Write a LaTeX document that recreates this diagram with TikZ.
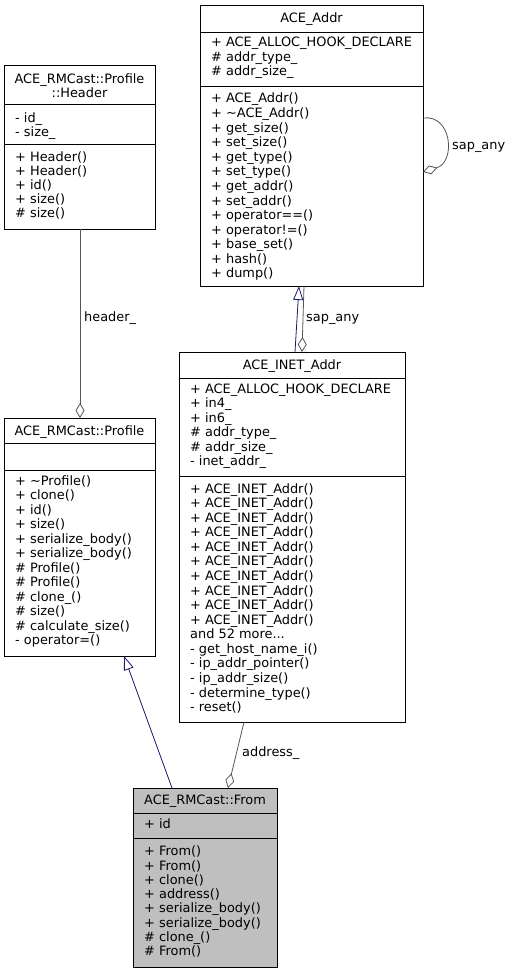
\documentclass[tikz,border=0pt]{standalone}
\usepackage{fontspec}
\setmainfont{DejaVu Sans}
\usetikzlibrary{arrows.meta,calc}
\definecolor{inh}{HTML}{191970}
\definecolor{usecol}{HTML}{555555}
\definecolor{fromfill}{HTML}{BFBFBF}
% prefix, x, first baseline, step, list
\newcommand\umlLines[5]{%
  \foreach \t [count=\i from 0] in {#5}{%
    \node[linetxt] (#1\i) at (#2, #3+#4*\i) {\t};
  }}
\begin{document}
\begin{tikzpicture}[x=1pt,y=-1pt,
  font=\fontsize{12.9}{14.5}\selectfont,
  comp/.style={draw=black, line width=0.8pt, fill=white, inner sep=0pt, outer sep=0pt, anchor=north west},
  linetxt/.style={anchor=base west, inner sep=0pt},
  titletxt/.style={anchor=base, inner sep=0pt},
  lbl/.style={anchor=west, inner sep=0pt},
  inherit/.style={draw=inh, line width=0.8pt, -{Triangle[length=14pt,width=10pt,fill=white]}},
  usage/.style={draw=usecol, line width=0.8pt, -{Diamond[length=15pt,width=9pt,fill=white]}}]
\useasboundingbox (0,0) rectangle (509,973);

% ---------- ACE_RMCast::Profile::Header ----------
\node[comp, minimum width=151pt, minimum height=39pt] (hdrT) at (4,65) {};
\node[comp, minimum width=151pt, minimum height=40pt] (hdrA) at (4,104) {};
\node[comp, minimum width=151pt, minimum height=85pt] (hdrM) at (4,144) {};
\node[titletxt] (hdrN1) at (79.5,84) {ACE\_RMCast::Profile};
\node[titletxt] (hdrN2) at (79.5,98) {::Header};
\umlLines{hdra}{15}{123}{14}{- id\_, - size\_}
\umlLines{hdrm}{15}{162}{13.9}{+ Header(), + Header(), + id(), + size(), \# size()}

% ---------- ACE_Addr ----------
\node[comp, minimum width=223pt, minimum height=27pt] (addrT) at (200,5) {};
\node[comp, minimum width=223pt, minimum height=54pt] (addrA) at (200,32) {};
\node[comp, minimum width=223pt, minimum height=200pt] (addrM) at (200,86) {};
\node[titletxt] (addrN) at (311.5,23) {ACE\_Addr};
\umlLines{addra}{211}{47}{14.5}{+ ACE\_ALLOC\_HOOK\_DECLARE, \# addr\_type\_, \# addr\_size\_}
\umlLines{addrm}{211}{103}{14.58}{+ ACE\_Addr(), + \textasciitilde ACE\_Addr(), + get\_size(), + set\_size(), + get\_type(), + set\_type(), + get\_addr(), + set\_addr(), + operator==(), + operator!=(), + base\_set(), + hash(), + dump()}

% ---------- ACE_RMCast::Profile ----------
\node[comp, minimum width=151pt, minimum height=25pt] (profT) at (4,418) {};
\node[comp, minimum width=151pt, minimum height=27pt] (profA) at (4,443) {};
\node[comp, minimum width=151pt, minimum height=186pt] (profM) at (4,470) {};
\node[titletxt] (profN) at (79.5,435) {ACE\_RMCast::Profile};
\umlLines{profm}{15}{485}{14.5}{+ \textasciitilde Profile(), + clone(), + id(), + size(), + serialize\_body(), + serialize\_body(), \# Profile(), \# Profile(), \# clone\_(), \# size(), \# calculate\_size(), - operator=()}

% ---------- ACE_INET_Addr ----------
\node[comp, minimum width=226pt, minimum height=26pt] (inetT) at (179,352) {};
\node[comp, minimum width=226pt, minimum height=98pt] (inetA) at (179,378) {};
\node[comp, minimum width=226pt, minimum height=246pt] (inetM) at (179,476) {};
\node[titletxt] (inetN) at (292,369) {ACE\_INET\_Addr};
\umlLines{ineta}{190}{393.3}{14.5}{+ ACE\_ALLOC\_HOOK\_DECLARE, + in4\_, + in6\_, \# addr\_type\_, \# addr\_size\_, - inet\_addr\_}
\umlLines{inetm}{190}{493}{14.58}{+ ACE\_INET\_Addr(), + ACE\_INET\_Addr(), + ACE\_INET\_Addr(), + ACE\_INET\_Addr(), + ACE\_INET\_Addr(), + ACE\_INET\_Addr(), + ACE\_INET\_Addr(), + ACE\_INET\_Addr(), + ACE\_INET\_Addr(), + ACE\_INET\_Addr(), {and 52 more{.}{.}{.}}, - get\_host\_name\_i(), - ip\_addr\_pointer(), - ip\_addr\_size(), - determine\_type(), - reset()}

% ---------- ACE_RMCast::From ----------
\node[comp, fill=fromfill, minimum width=144pt, minimum height=25pt] (fromT) at (133,788) {};
\node[comp, fill=fromfill, minimum width=144pt, minimum height=25pt] (fromA) at (133,813) {};
\node[comp, fill=fromfill, minimum width=144pt, minimum height=129pt] (fromM) at (133,838) {};
\node[titletxt] (fromN) at (205,804) {ACE\_RMCast::From};
\umlLines{froma}{144}{828}{14.3}{+ id}
\umlLines{fromm}{144}{855.7}{14.3}{+ From(), + From(), + clone(), + address(), + serialize\_body(), + serialize\_body(), \# clone\_(), \# From()}

% ---------- connectors ----------
% header_
\draw[usage] ($(hdrM.south west)+(76,0)$) -- ($(profT.north west)+(76,0)$);
\node[lbl] (lblHeader) at (84,318) {header\_};
% From -> Profile
\draw[inherit] ($(fromT.north west)+(39,0)$) -- ($(profM.south west)+(120,0)$);
% address_
\draw[usage] ($(inetM.south west)+(65,0)$) -- ($(fromT.north west)+(95,0)$);
\node[lbl] (lblAddress) at (242,753) {address\_};
% INET -> Addr
\draw[inherit] ($(inetT.north west)+(116,0)$) -- ($(addrM.south west)+(99,0)$);
% sap_any (Addr -> INET)
\draw[usage] ($(addrM.south west)+(104,0)$) -- ($(inetT.north west)+(123,0)$);
\node[lbl] (lblSap) at (306,319) {sap\_any};
% sap_any self loop
\draw[usage] ($(addrM.north east)+(0,32)$) .. controls (452,114) and (456,162) .. ($(addrM.north east)+(0,86)$);
\node[lbl] (lblSapSelf) at (452,147) {sap\_any};
\end{tikzpicture}
\end{document}
